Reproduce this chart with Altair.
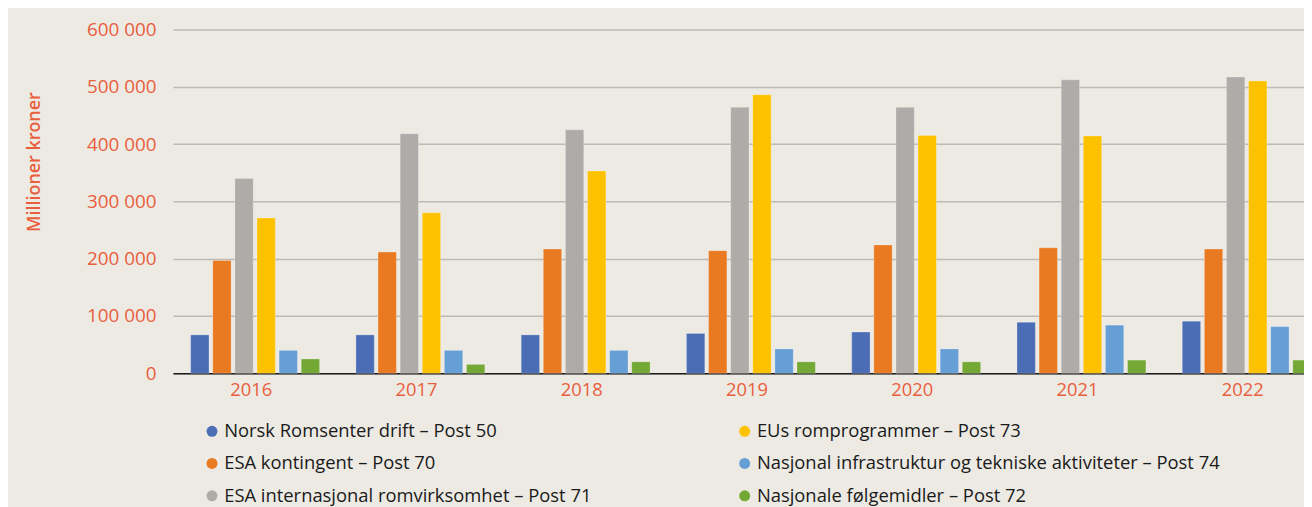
import altair as alt
import pandas as pd

years = ["2016", "2017", "2018", "2019", "2020", "2021", "2022"]
series = [
    "Norsk Romsenter drift – Post 50",
    "ESA kontingent – Post 70",
    "ESA internasjonal romvirksomhet – Post 71",
    "EUs romprogrammer – Post 73",
    "Nasjonal infrastruktur og tekniske aktiviteter – Post 74",
    "Nasjonale følgemidler – Post 72",
]
post50 = [67000, 67000, 67000, 69500, 72000, 89000, 91000]
post70 = [197000, 211500, 216700, 214000, 224000, 219000, 216700]
post71 = [340000, 418000, 425000, 464000, 464000, 512000, 517000]
post73 = [271000, 280000, 353000, 486000, 415000, 414000, 510000]
post74 = [40000, 40000, 40000, 42500, 42500, 84000, 81500]
post72 = [25000, 15500, 20000, 20000, 20000, 23000, 23000]
series_colors = ["#4A6DB5", "#EA7A22", "#AEABA9", "#FCC200", "#659FD6", "#72A833"]
y_ticks = [0, 100000, 200000, 300000, 400000, 500000, 600000]

rows = []
for s, vals in zip(series, [post50, post70, post71, post73, post74, post72]):
    for yr, v in zip(years, vals):
        rows.append({"År": yr, "Post": s, "Verdi": v})
df = pd.DataFrame(rows)

accent = "#E95E3D"
font = "Open Sans"

chart = (
    alt.Chart(df)
    .mark_bar(stroke="#ffffff", strokeOpacity=0.25, strokeWidth=1)
    .encode(
        x=alt.X(
            "År:N",
            sort=years,
            title=None,
            scale=alt.Scale(range=[0, 1163], paddingInner=0.22, paddingOuter=0.107),
            axis=alt.Axis(
                labelAngle=0,
                labelColor=accent,
                labelFontSize=18.5,
                labelFont=font,
                labelPadding=7,
                labelOffset=-4,
                ticks=False,
                domainColor="#1a1a1a",
                domainWidth=1.5,
                grid=False,
            ),
        ),
        xOffset=alt.XOffset(
            "Post:N", sort=series, scale=alt.Scale(paddingInner=0.17, paddingOuter=0)
        ),
        y=alt.Y(
            "Verdi:Q",
            scale=alt.Scale(domain=[0, 600000]),
            axis=alt.Axis(
                values=y_ticks,
                labelExpr="replace(format(datum.value, ','), ',', ' ')",
                title="Millioner kroner",
                titleX=-139,
                titleY=133,
                titleAngle=-90,
                titleAlign="center",
                titleBaseline="middle",
                titleColor=accent,
                titleFont=font,
                titleFontSize=18,
                titleFontWeight=600,
                labelColor=accent,
                labelFont=font,
                labelFontSize=19,
                labelPadding=17,
                ticks=False,
                domain=False,
                gridColor="#BDBAB6",
                gridWidth=1.5,
            ),
        ),
        color=alt.Color(
            "Post:N",
            scale=alt.Scale(domain=series, range=series_colors),
            legend=alt.Legend(
                title=None,
                orient="none",
                legendX=30,
                legendY=395,
                columns=2,
                columnPadding=144,
                rowPadding=13.5,
                symbolType="circle",
                symbolSize=121,
                symbolStrokeWidth=0,
                labelFont=font,
                labelFontSize=18.5,
                labelColor="#1a1a1a",
                labelOffset=3,
                labelLimit=700,
                padding=0,
            ),
        ),
    )
    .properties(
        width=1138,
        height=346,
        autosize="none",
        padding={"left": 166, "top": 20, "right": 0, "bottom": 136},
        background="#EDEAE4",
    )
    .configure_view(stroke=None)
)

chart.save("out.html", embed_options={"renderer": "svg", "actions": False})
